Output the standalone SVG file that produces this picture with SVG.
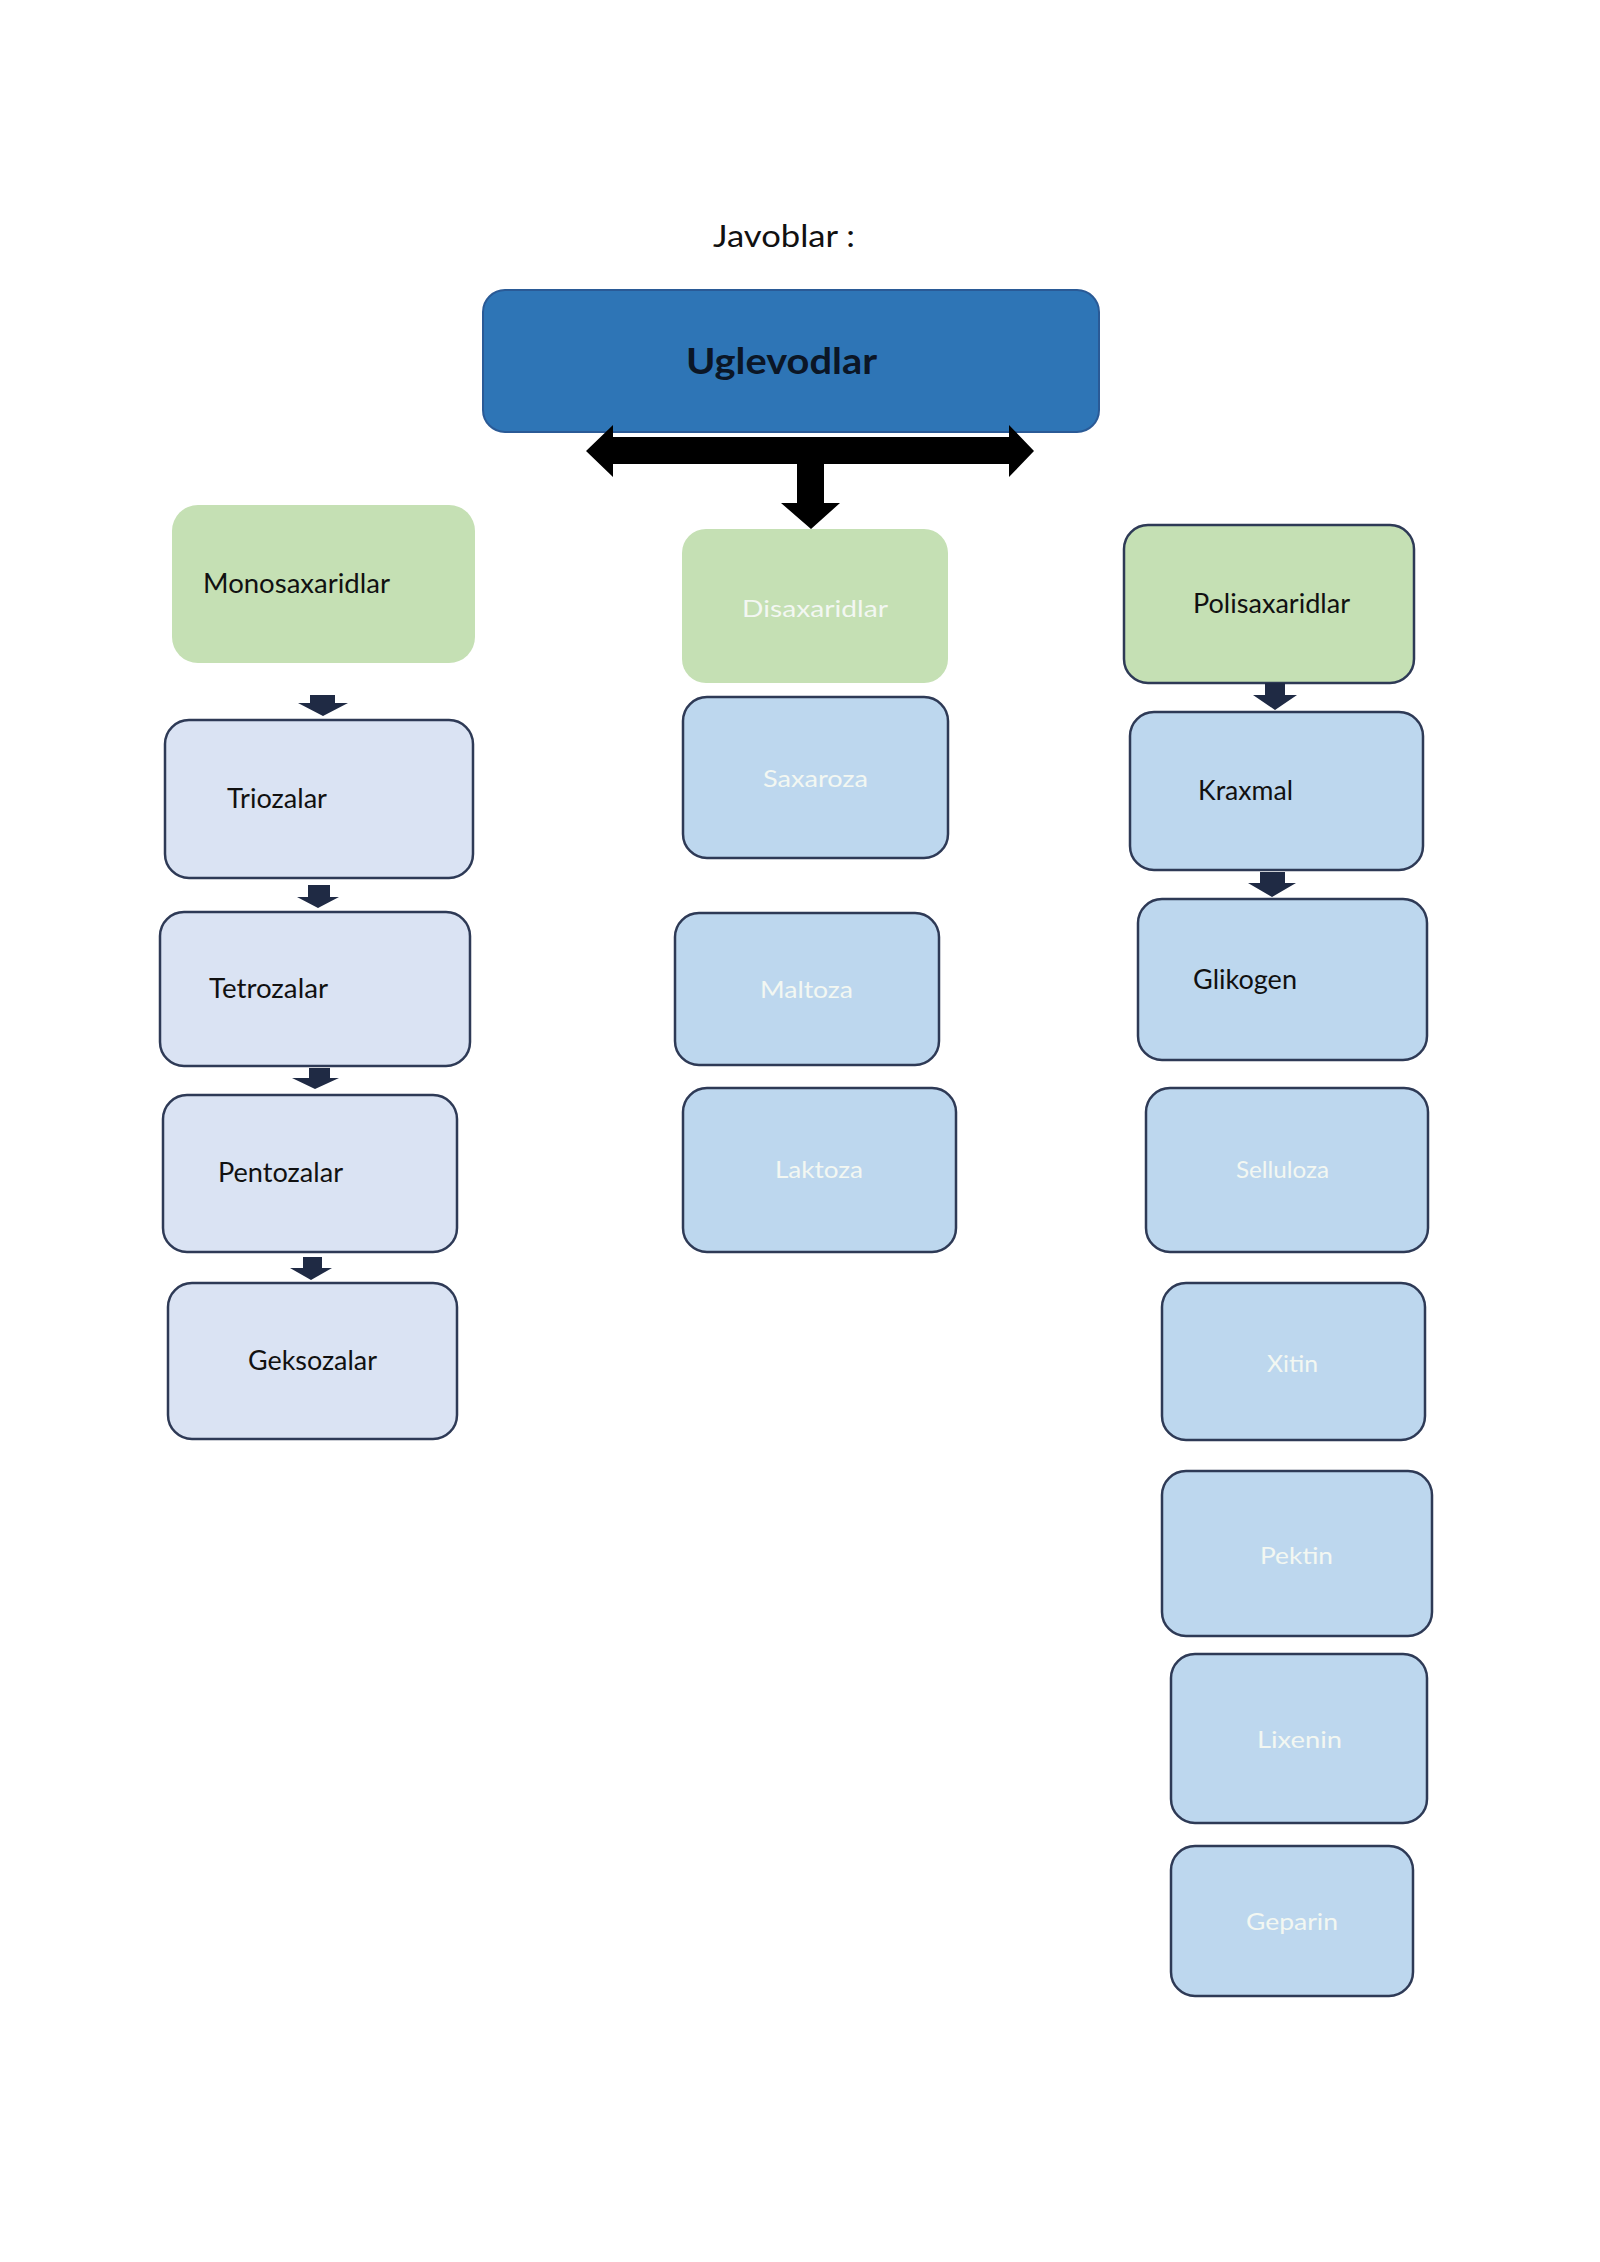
<svg xmlns="http://www.w3.org/2000/svg" width="1600" height="2262" viewBox="0 0 1600 2262">
<style>
.lbl{font-family:Lato,"Open Sans","Liberation Sans",sans-serif;font-size:26px;fill:#111111}
.wl{font-family:Lato,"Open Sans","Liberation Sans",sans-serif;font-size:24px;fill:#f3f7f2}
.green{fill:#c5e0b4}
.lb{fill:#dae3f3;stroke:#2e3a56;stroke-width:2.5}
.mb{fill:#bdd7ee;stroke:#2e3a56;stroke-width:2.5}
.sa{fill:#1f2a44}
</style>
<rect x="0" y="0" width="1600" height="2262" fill="#ffffff"/>
<text x="713" y="247" font-family="Lato,'Open Sans','Liberation Sans',sans-serif" font-size="30" fill="#111111" textLength="142" lengthAdjust="spacingAndGlyphs">Javoblar :</text>

<g id="uglevodlar">
<rect x="483" y="290" width="616" height="142" rx="22" fill="#2e75b6" stroke="#2a5a96" stroke-width="2"/>
<text x="686" y="374" font-family="Lato,'Open Sans','Liberation Sans',sans-serif" font-size="37" font-weight="bold" fill="#0b1626" textLength="191" lengthAdjust="spacingAndGlyphs">Uglevodlar</text>
</g>

<g id="monosaxaridlar">
<rect x="172" y="505" width="303" height="158" rx="26" class="green"/>
<text x="203" y="593" class="lbl" textLength="187" lengthAdjust="spacingAndGlyphs">Monosaxaridlar</text>
</g>
<g id="triozalar">
<rect x="165" y="720" width="308" height="158" rx="24" class="lb"/>
<text x="227" y="808" class="lbl" textLength="100" lengthAdjust="spacingAndGlyphs">Triozalar</text>
</g>
<g id="tetrozalar">
<rect x="160" y="912" width="310" height="154" rx="24" class="lb"/>
<text x="209" y="998" class="lbl" textLength="119" lengthAdjust="spacingAndGlyphs">Tetrozalar</text>
</g>
<g id="pentozalar">
<rect x="163" y="1095" width="294" height="157" rx="24" class="lb"/>
<text x="218" y="1182" class="lbl" textLength="125" lengthAdjust="spacingAndGlyphs">Pentozalar</text>
</g>
<g id="geksozalar">
<rect x="168" y="1283" width="289" height="156" rx="24" class="lb"/>
<text x="248" y="1370" class="lbl" textLength="129" lengthAdjust="spacingAndGlyphs">Geksozalar</text>
</g>

<g id="disaxaridlar">
<rect x="682" y="529" width="266" height="154" rx="24" class="green"/>
<text x="742" y="617" class="wl" textLength="146" lengthAdjust="spacingAndGlyphs">Disaxaridlar</text>
</g>
<g id="saxaroza">
<rect x="683" y="697" width="265" height="161" rx="24" class="mb"/>
<text x="763" y="787" class="wl" textLength="105" lengthAdjust="spacingAndGlyphs">Saxaroza</text>
</g>
<g id="maltoza">
<rect x="675" y="913" width="264" height="152" rx="24" class="mb"/>
<text x="760" y="998" class="wl" textLength="93" lengthAdjust="spacingAndGlyphs">Maltoza</text>
</g>
<g id="laktoza">
<rect x="683" y="1088" width="273" height="164" rx="24" class="mb"/>
<text x="775" y="1178" class="wl" textLength="88" lengthAdjust="spacingAndGlyphs">Laktoza</text>
</g>

<g id="polisaxaridlar">
<rect x="1124" y="525" width="290" height="158" rx="24" fill="#c5e0b4" stroke="#2e3a56" stroke-width="2.5"/>
<text x="1193" y="613" class="lbl" textLength="157" lengthAdjust="spacingAndGlyphs">Polisaxaridlar</text>
</g>
<g id="kraxmal">
<rect x="1130" y="712" width="293" height="158" rx="24" class="mb"/>
<text x="1198" y="800" class="lbl" textLength="95" lengthAdjust="spacingAndGlyphs">Kraxmal</text>
</g>
<g id="glikogen">
<rect x="1138" y="899" width="289" height="161" rx="24" class="mb"/>
<text x="1193" y="989" class="lbl" textLength="104" lengthAdjust="spacingAndGlyphs">Glikogen</text>
</g>
<g id="selluloza">
<rect x="1146" y="1088" width="282" height="164" rx="24" class="mb"/>
<text x="1236" y="1178" class="wl" textLength="93" lengthAdjust="spacingAndGlyphs">Selluloza</text>
</g>
<g id="xitin">
<rect x="1162" y="1283" width="263" height="157" rx="24" class="mb"/>
<text x="1267" y="1372" class="wl" textLength="51" lengthAdjust="spacingAndGlyphs">Xitin</text>
</g>
<g id="pektin">
<rect x="1162" y="1471" width="270" height="165" rx="24" class="mb"/>
<text x="1260" y="1564" class="wl" textLength="73" lengthAdjust="spacingAndGlyphs">Pektin</text>
</g>
<g id="lixenin">
<rect x="1171" y="1654" width="256" height="169" rx="24" class="mb"/>
<text x="1257" y="1748" class="wl" textLength="85" lengthAdjust="spacingAndGlyphs">Lixenin</text>
</g>
<g id="geparin">
<rect x="1171" y="1846" width="242" height="150" rx="24" class="mb"/>
<text x="1246" y="1930" class="wl" textLength="92" lengthAdjust="spacingAndGlyphs">Geparin</text>
</g>

<g id="connectors">
<path d="M586,451 L613,425 L613,437 L1009,437 L1009,425 L1034,451 L1009,477 L1009,464 L824,464 L824,503 L840,503 L811,529 L781,503 L797,503 L797,464 L613,464 L613,477 Z" fill="#000000"/>
<path class="sa" d="M310,695 L335,695 L335,703 L348,703 L323,716 L298,703 L310,703 Z"/>
<path class="sa" d="M308,885 L330,885 L330,897 L339,897 L318,908 L297,897 L308,897 Z"/>
<path class="sa" d="M309,1068 L330,1068 L330,1078 L339,1078 L315,1089 L292,1078 L309,1078 Z"/>
<path class="sa" d="M303,1257 L322,1257 L322,1268 L332,1268 L311,1280 L290,1268 L303,1268 Z"/>
<path class="sa" d="M1265,683 L1285,683 L1285,695 L1297,695 L1275,710 L1253,695 L1265,695 Z"/>
<path class="sa" d="M1260,872 L1285,872 L1285,883 L1296,883 L1272,897 L1248,883 L1260,883 Z"/>
</g>
</svg>
